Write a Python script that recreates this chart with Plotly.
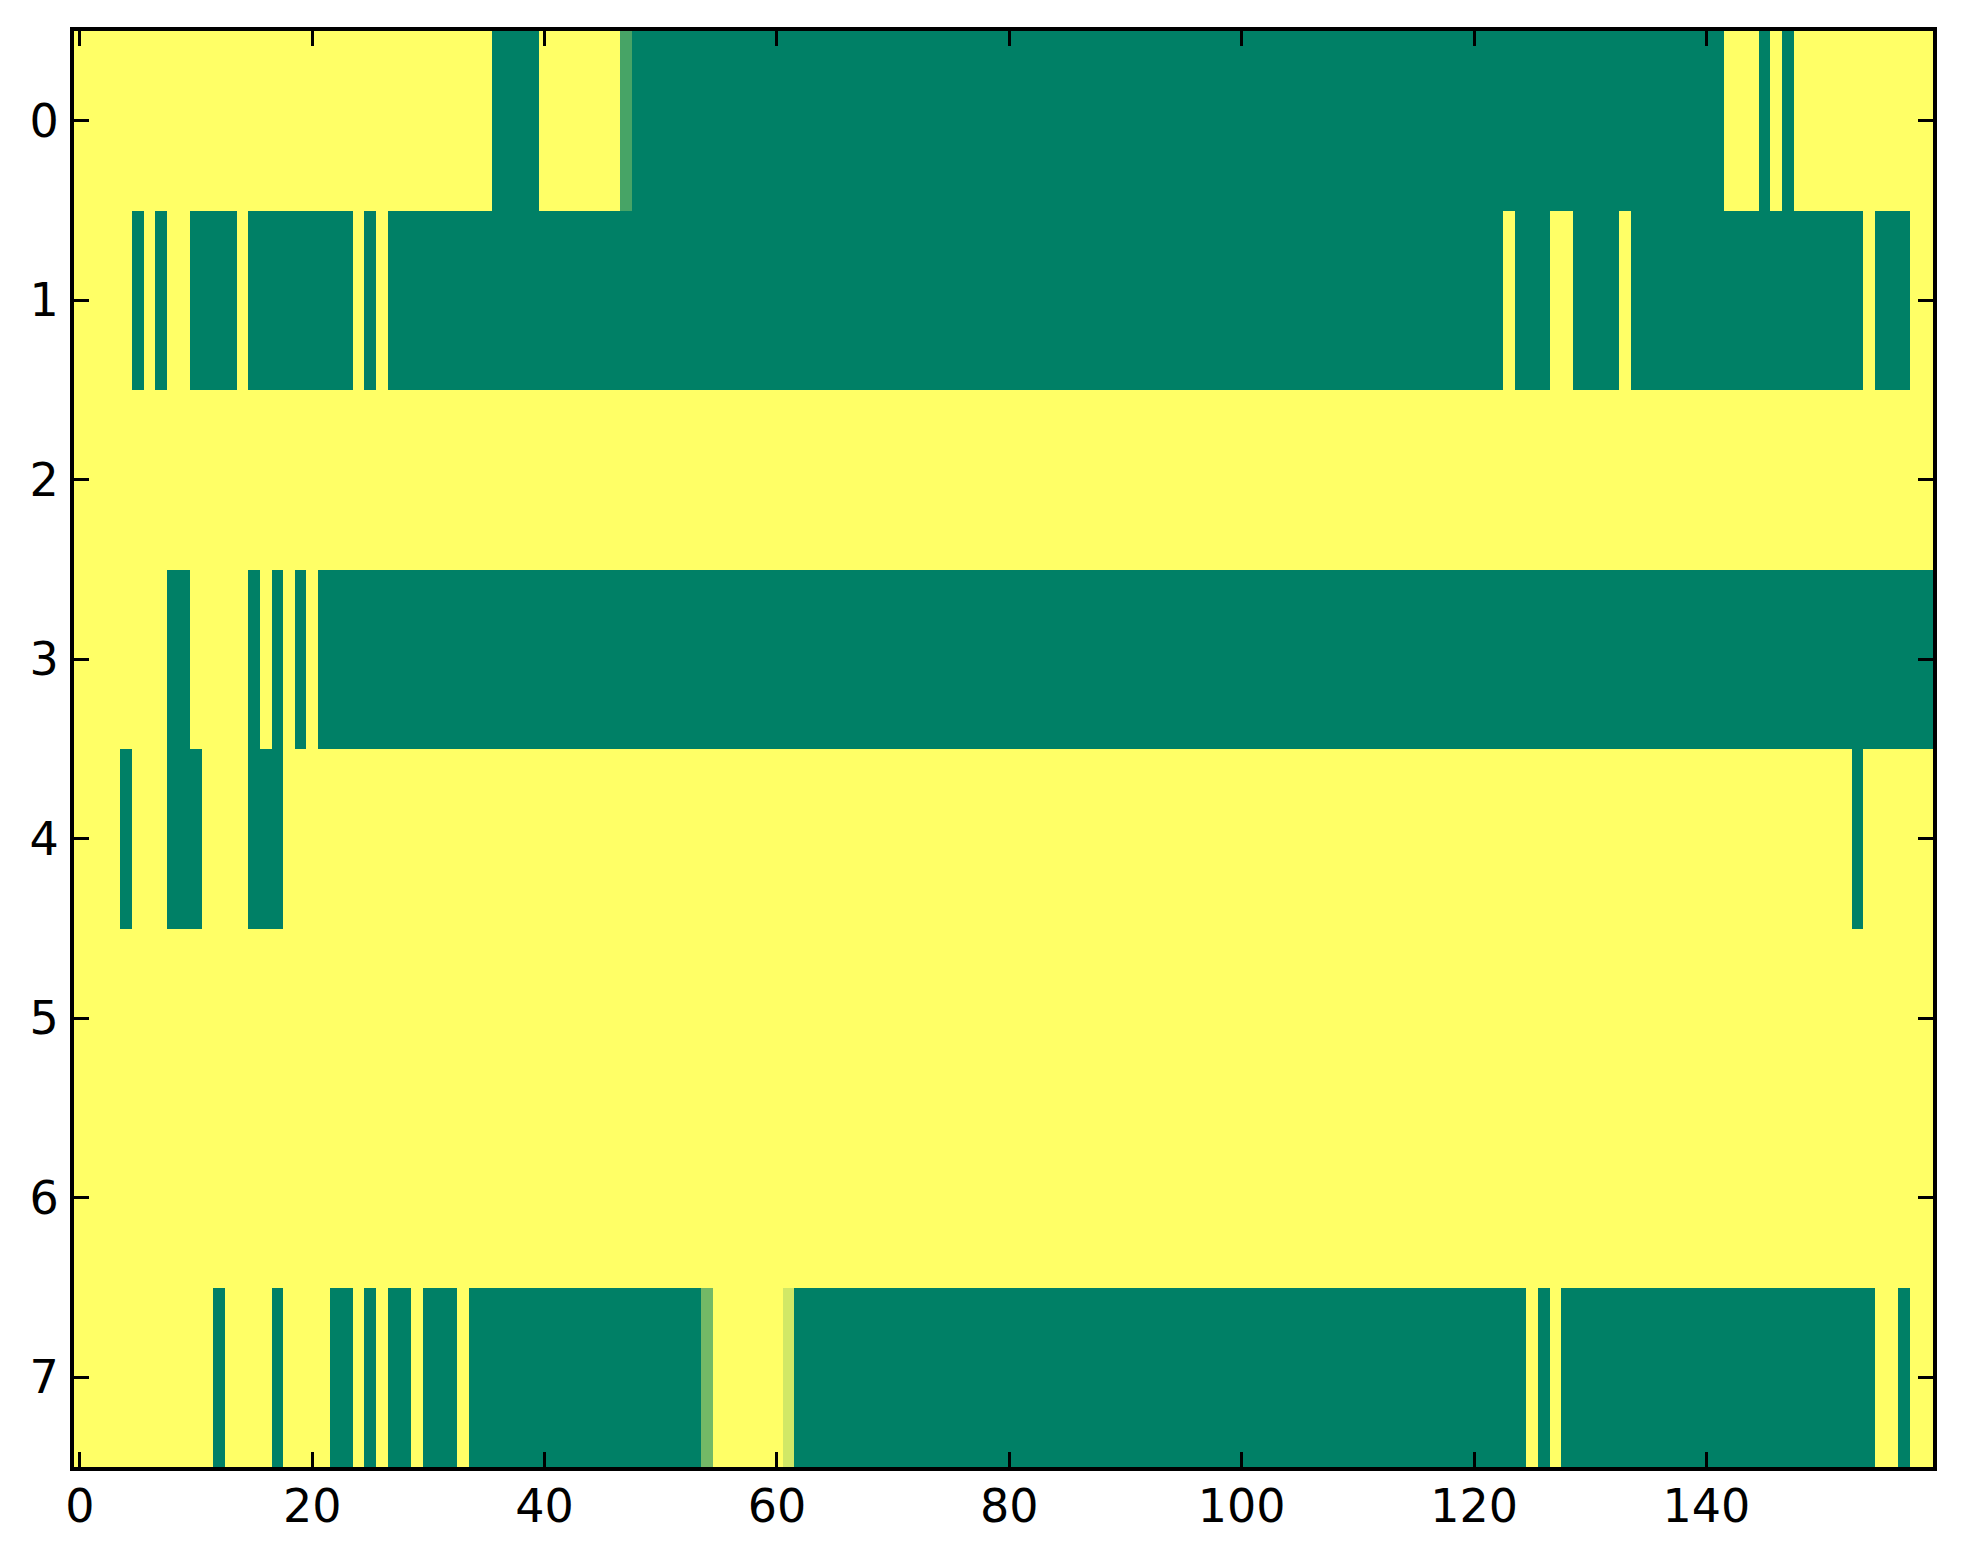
import numpy as np
import plotly.graph_objects as go

## DATA: 8 rows x 160 columns, value 1 (yellow) unless listed below
n_rows = 8
n_cols = 160

# runs of columns (inclusive) that hold the low value 0 (green)
row0_low = [(36, 39), (48, 141), (145, 145), (147, 147)]
row1_low = [(5, 5), (7, 7), (10, 13), (15, 23), (25, 25), (27, 122),
            (124, 126), (129, 132), (134, 153), (155, 157)]
row2_low = []
row3_low = [(8, 9), (15, 15), (17, 17), (19, 19), (21, 159)]
row4_low = [(4, 4), (8, 10), (15, 17), (153, 153)]
row5_low = []
row6_low = []
row7_low = [(12, 12), (17, 17), (22, 23), (25, 25), (27, 28), (30, 32),
            (34, 53), (62, 124), (126, 126), (128, 154), (157, 157)]

# single cells with in-between values (row, column, value)
partial_cells = [(0, 47, 0.28), (7, 54, 0.45), (7, 61, 0.82)]

x_ticks = [0, 20, 40, 60, 80, 100, 120, 140]
y_ticks = [0, 1, 2, 3, 4, 5, 6, 7]


## BUILD MATRIX
all_low = [row0_low, row1_low, row2_low, row3_low,
           row4_low, row5_low, row6_low, row7_low]
z = np.ones((n_rows, n_cols))
for r, runs in enumerate(all_low):
    for a, b in runs:
        z[r, a:b + 1] = 0.0
for r, c, v in partial_cells:
    z[r, c] = v

# matplotlib 'summer' colormap
summer = [[0.0, 'rgb(0,128,102)'], [1.0, 'rgb(255,255,102)']]

fig = go.Figure(data=go.Heatmap(
    z=z,
    x=list(range(n_cols)),
    y=list(range(n_rows)),
    colorscale=summer,
    zmin=0,
    zmax=1,
    showscale=False,
    hoverinfo='x+y+z'
))

axis_style = dict(
    showgrid=False,
    zeroline=False,
    showline=True,
    linecolor='black',
    linewidth=4,
    mirror='ticks',
    ticks='inside',
    ticklen=15,
    tickwidth=3,
    tickcolor='black',
    tickfont=dict(family='DejaVu Sans', size=46, color='black'),
)

fig.update_layout(
    width=1963,
    height=1564,
    margin=dict(l=66, r=38, t=23, b=105),
    paper_bgcolor='white',
    plot_bgcolor='white',
    xaxis=dict(range=[-0.5, n_cols - 0.5], tickvals=x_ticks,
               ticklabelstandoff=-4, **axis_style),
    yaxis=dict(range=[n_rows - 0.5, -0.5], tickvals=y_ticks,
               ticklabelstandoff=2, **axis_style),
)

fig.write_html("out.html")
